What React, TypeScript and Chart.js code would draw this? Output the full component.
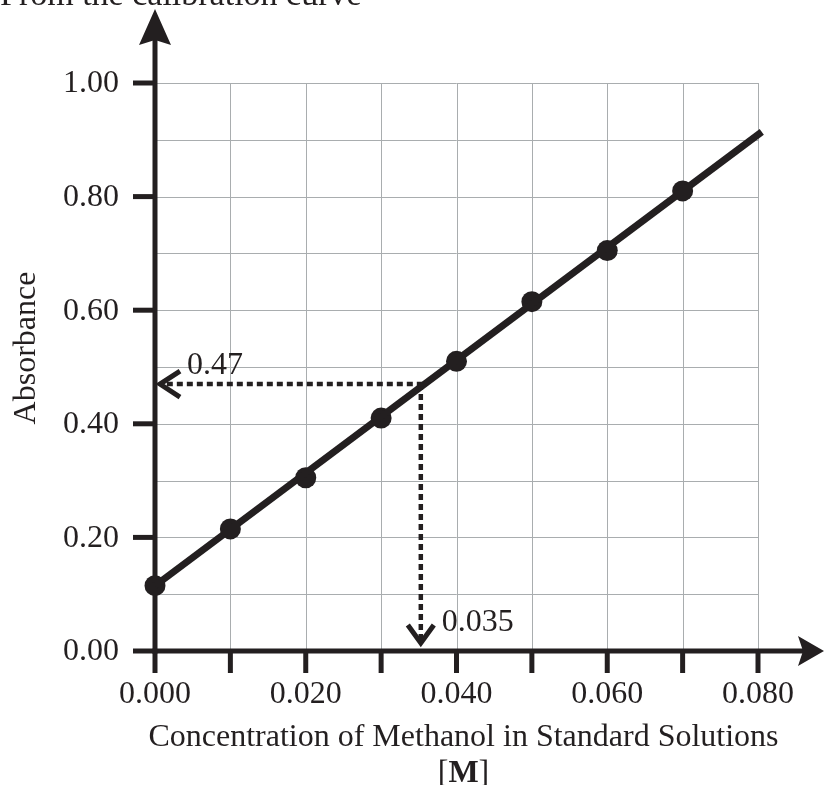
import React, { useEffect, useRef } from "react";
import { Chart, registerables } from "chart.js";

Chart.register(...registerables);

// ---- data ----
const concentrations = [0, 0.01, 0.02, 0.03, 0.04, 0.05, 0.06, 0.07];
const absorbance = [0.115, 0.215, 0.305, 0.41, 0.51, 0.615, 0.705, 0.81];
const fitX = [0, 0.0805];
const fitY = [0.115, 0.914];
const xTickValues = [0, 0.01, 0.02, 0.03, 0.04, 0.05, 0.06, 0.07, 0.08];
const xLabelValues = [0, 0.02, 0.04, 0.06, 0.08];
const xLabels = ["0.000", "0.020", "0.040", "0.060", "0.080"];
const yGridValues = [0.1, 0.2, 0.3, 0.4, 0.5, 0.6, 0.7, 0.8, 0.9, 1.0];
const yTickValues = [0, 0.2, 0.4, 0.6, 0.8, 1.0];
const yLabels = ["0.00", "0.20", "0.40", "0.60", "0.80", "1.00"];
const readAbsorbance = 0.47;
const readConcentration = 0.035;
const readAbsLabel = "0.47";
const readConcLabel = "0.035";
const titleText = "From the calibration curve";
const xTitle = "Concentration of Methanol in Standard Solutions";
const yTitle = "Absorbance";

const INK = "#231f20";
const GRID = "#a9adaf";
const FONT = '"Liberation Serif", "Times New Roman", serif';
const FS = 32;

const decorPlugin = {
  id: "decor",
  beforeDatasetsDraw(chart: any) {
    const { ctx, chartArea: ca, scales } = chart;
    const xs = scales.x;
    const ys = scales.y;
    ctx.save();
    // grid
    ctx.strokeStyle = GRID;
    ctx.lineWidth = 1;
    for (const v of yGridValues) {
      const y = Math.round(ys.getPixelForValue(v)) + 0.5;
      ctx.beginPath();
      ctx.moveTo(ca.left, y);
      ctx.lineTo(xs.getPixelForValue(0.08), y);
      ctx.stroke();
    }
    for (const v of xTickValues) {
      if (v === 0) continue;
      const x = Math.round(xs.getPixelForValue(v)) + 0.5;
      ctx.beginPath();
      ctx.moveTo(x, ys.getPixelForValue(1.0));
      ctx.lineTo(x, ca.bottom);
      ctx.stroke();
    }
    // axes
    const x0 = xs.getPixelForValue(0);
    const y0 = ys.getPixelForValue(0);
    ctx.strokeStyle = INK;
    ctx.fillStyle = INK;
    ctx.lineWidth = 5;
    ctx.lineCap = "butt";
    ctx.beginPath();
    ctx.moveTo(x0, y0 + 2.5);
    ctx.lineTo(x0, ca.top - 45);
    ctx.stroke();
    ctx.beginPath();
    ctx.moveTo(x0 - 2.5, y0);
    ctx.lineTo(ca.right + 45, y0);
    ctx.stroke();
    // y arrowhead
    ctx.beginPath();
    ctx.moveTo(x0, ca.top - 74);
    ctx.lineTo(x0 + 16, ca.top - 38);
    ctx.lineTo(x0, ca.top - 43);
    ctx.lineTo(x0 - 16, ca.top - 38);
    ctx.closePath();
    ctx.fill();
    // x arrowhead
    ctx.beginPath();
    ctx.moveTo(ca.right + 66, y0);
    ctx.lineTo(ca.right + 40, y0 - 15);
    ctx.lineTo(ca.right + 45, y0);
    ctx.lineTo(ca.right + 40, y0 + 15);
    ctx.closePath();
    ctx.fill();
    // ticks
    ctx.lineWidth = 5;
    for (const v of xTickValues) {
      const x = xs.getPixelForValue(v);
      ctx.beginPath();
      ctx.moveTo(x, y0);
      ctx.lineTo(x, y0 + 22);
      ctx.stroke();
    }
    for (const v of yTickValues) {
      const y = ys.getPixelForValue(v);
      ctx.beginPath();
      ctx.moveTo(x0, y);
      ctx.lineTo(x0 - 22, y);
      ctx.stroke();
    }
    // labels
    ctx.font = FS + "px " + FONT;
    ctx.textAlign = "right";
    ctx.textBaseline = "middle";
    yTickValues.forEach((v, i) => {
      ctx.fillText(yLabels[i], x0 - 36, ys.getPixelForValue(v) + 1);
    });
    ctx.textAlign = "center";
    ctx.textBaseline = "alphabetic";
    xLabelValues.forEach((v, i) => {
      ctx.fillText(xLabels[i], xs.getPixelForValue(v), y0 + 52);
    });
    // axis titles
    const cx = (x0 + xs.getPixelForValue(0.08)) / 2 + 7;
    ctx.fillText(xTitle, cx, y0 + 95);
    ctx.font = FS + "px " + FONT;
    const wA = ctx.measureText("[").width;
    ctx.font = "bold " + FS + "px " + FONT;
    const wM = ctx.measureText("M").width;
    ctx.font = FS + "px " + FONT;
    const wB = ctx.measureText("]").width;
    const total = wA + wM + wB;
    const sx = cx - total / 2;
    const by = y0 + 131;
    ctx.textAlign = "left";
    ctx.fillText("[", sx, by);
    ctx.font = "bold " + FS + "px " + FONT;
    ctx.fillText("M", sx + wA, by);
    ctx.font = FS + "px " + FONT;
    ctx.fillText("]", sx + wA + wM, by);

    ctx.save();
    ctx.translate(35, 348);
    ctx.rotate(-Math.PI / 2);
    ctx.textAlign = "center";
    ctx.fillText(yTitle, 0, 0);
    ctx.restore();

    // title (cut off at top)
    ctx.textAlign = "left";
    ctx.font = "34px " + FONT;
    ctx.fillText(titleText, 0, 5);
    ctx.restore();
  },
  afterDatasetsDraw(chart: any) {
    const { ctx, scales } = chart;
    const xs = scales.x;
    const ys = scales.y;
    const x0 = xs.getPixelForValue(0);
    const y0 = ys.getPixelForValue(0);
    const rx = xs.getPixelForValue(readConcentration) + 2;
    const ry = ys.getPixelForValue(readAbsorbance);
    ctx.save();
    ctx.strokeStyle = INK;
    ctx.fillStyle = INK;
    ctx.lineWidth = 4.5;
    ctx.setLineDash([6, 4]);
    ctx.beginPath();
    ctx.moveTo(rx + 2, ry);
    ctx.lineTo(x0 + 6, ry);
    ctx.stroke();
    ctx.beginPath();
    ctx.moveTo(rx, ry);
    ctx.lineTo(rx, y0 - 12);
    ctx.stroke();
    ctx.setLineDash([]);
    ctx.lineWidth = 5;
    ctx.lineCap = "butt";
    ctx.beginPath();
    ctx.moveTo(x0 + 25, ry - 13);
    ctx.lineTo(x0 + 5, ry);
    ctx.lineTo(x0 + 25, ry + 13);
    ctx.stroke();
    ctx.beginPath();
    ctx.moveTo(rx - 13, y0 - 26);
    ctx.lineTo(rx, y0 - 8);
    ctx.lineTo(rx + 13, y0 - 26);
    ctx.stroke();
    ctx.font = FS + "px " + FONT;
    ctx.textAlign = "left";
    ctx.textBaseline = "alphabetic";
    ctx.fillText(readAbsLabel, x0 + 32, ry - 10);
    ctx.fillText(readConcLabel, rx + 21, y0 - 20);
    ctx.restore();
  },
};

export default function App() {
  const ref = useRef<HTMLCanvasElement | null>(null);
  useEffect(() => {
    if (!ref.current) return;
    const chart = new Chart(ref.current, {
      type: "scatter",
      data: {
        datasets: [
          {
            label: "fit",
            data: fitX.map((x, i) => ({ x, y: fitY[i] })),
            showLine: true,
            borderColor: INK,
            borderWidth: 7,
            pointRadius: 0,
            clip: false as any,
          },
          {
            label: "standards",
            data: concentrations.map((x, i) => ({ x, y: absorbance[i] })),
            backgroundColor: INK,
            borderColor: INK,
            pointRadius: 10.5,
            borderWidth: 0,
            clip: false as any,
          },
        ],
      },
      options: {
        responsive: false,
        animation: false,
        layout: { padding: { left: 155, right: 68, top: 83, bottom: 134 } },
        plugins: { legend: { display: false }, tooltip: { enabled: false } },
        scales: {
          x: { type: "linear", min: 0, max: 0.08, display: false },
          y: { type: "linear", min: 0, max: 1.0, display: false },
        },
      },
      plugins: [decorPlugin],
    });
    return () => chart.destroy();
  }, []);
  return (
    <div style={{ position: "absolute", left: 0, top: 0, width: 826, height: 785, background: "#fff" }}>
      <canvas ref={ref} width={826} height={785} style={{ display: "block" }} />
    </div>
  );
}
